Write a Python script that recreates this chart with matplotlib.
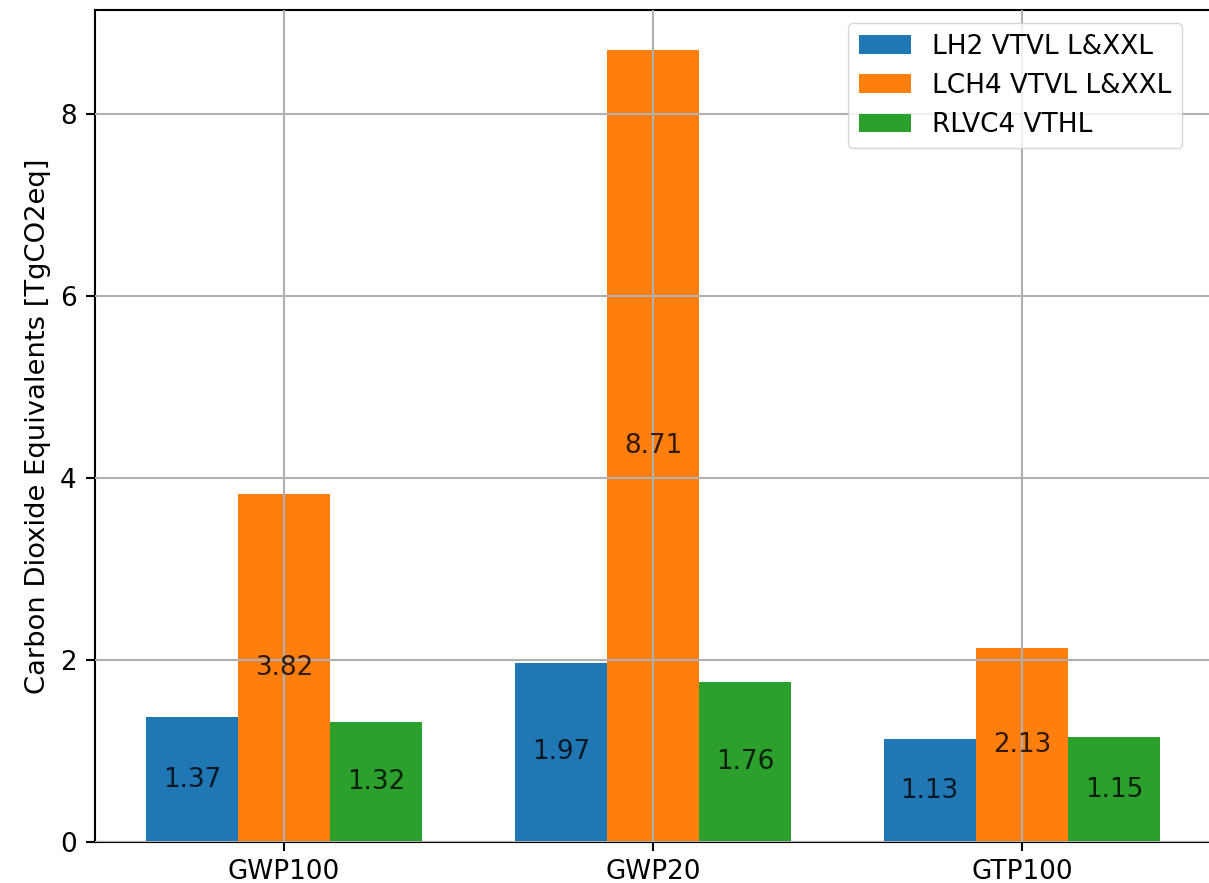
import numpy as np
import matplotlib
matplotlib.use("Agg")
import matplotlib.pyplot as plt

metrics = ["GWP100", "GWP20", "GTP100"]
lh2_vtvl = [1.37, 1.97, 1.13]
lch4_vtvl = [3.82, 8.71, 2.13]
rlvc4_vthl = [1.32, 1.76, 1.15]
series_names = ["LH2 VTVL L&XXL", "LCH4 VTVL L&XXL", "RLVC4 VTHL"]

scale = 1.89
fig = plt.figure(figsize=(12.09, 8.83), dpi=100)
ax = fig.add_axes([95 / 1209, 41 / 883, 1116 / 1209, 832 / 883])

x = np.arange(len(metrics))
width = 0.25
colors = ["#1f77b4", "#ff7f0e", "#2ca02c"]
for i, (vals, name) in enumerate(zip([lh2_vtvl, lch4_vtvl, rlvc4_vthl], series_names)):
    bars = ax.bar(x + (i - 1) * width, vals, width, label=name, color=colors[i])
    ax.bar_label(bars, labels=[f"{v:.2f}" for v in vals], label_type="center",
                 fontsize=10 * scale, color="black", alpha=0.8)

ax.set_xticks(x)
ax.set_xticklabels(metrics)
ax.set_ylabel("Carbon Dioxide Equivalents [TgCO2eq]", fontsize=19.7,
              labelpad=3.5 * scale)
ax.tick_params(axis="both", labelsize=10 * scale, length=3.5 * scale,
               width=0.8 * scale, pad=3.5 * scale)
ax.tick_params(axis="x", pad=2.8 * scale)
ax.grid(True, color="#b0b0b0", linewidth=0.8 * scale)
ax.set_axisbelow(False)
for s in ax.spines.values():
    s.set_linewidth(0.8 * scale)
ax.legend(fontsize=10 * scale, loc="upper right",
          bbox_to_anchor=(1195 / 1209, 1 - 10 / 883),
          bbox_transform=fig.transFigure)

fig.savefig("out.png", dpi=100)
